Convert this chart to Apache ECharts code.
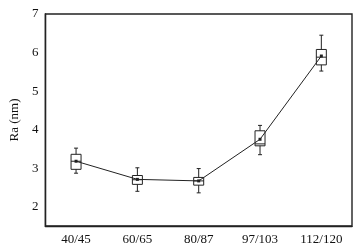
<!DOCTYPE html>
<html><head><meta charset="utf-8">
<script src="https://cdn.jsdelivr.net/npm/echarts@6/dist/echarts.min.js"></script>
<style>html,body{margin:0;padding:0;background:#fff}#c{width:363px;height:247px}</style>
</head><body><div id="c"></div>
<script>
const categories = ['40/45','60/65','80/87','97/103','112/120'];
const whiskerLow = [2.87, 2.40, 2.36, 3.35, 5.52];
const boxLow    = [2.97, 2.58, 2.56, 3.58, 5.68];
const medians   = [3.18, 2.70, 2.67, 3.63, 5.88];
const boxHigh   = [3.36, 2.81, 2.76, 3.97, 6.08];
const whiskerHigh = [3.52, 3.01, 2.99, 4.11, 6.45];
const means     = [3.18, 2.71, 2.67, 3.75, 5.91];
const yTicks = [2,3,4,5,6,7];

const boxData = categories.map((c,i)=>[i, whiskerLow[i], boxLow[i], medians[i], boxHigh[i], whiskerHigh[i]]);
const font = 'Liberation Serif';
const chart = echarts.init(document.getElementById('c'));
chart.setOption({
  animation:false,
  grid:{left:43,right:11,top:14,bottom:21,show:true,borderColor:'#222',borderWidth:1.4,backgroundColor:'transparent'},
  xAxis:{type:'category',data:categories,boundaryGap:true,
    axisLine:{lineStyle:{color:'#222',width:1.4}},
    axisTick:{inside:true,alignWithLabel:true,length:5,lineStyle:{color:'#222'}},
    axisLabel:{fontFamily:font,fontSize:13,color:'#111',margin:7},
    splitLine:{show:false}},
  yAxis:{type:'value',min:1.5,max:7,
    name:'Ra (nm)',nameLocation:'middle',nameGap:23,nameRotate:90,
    nameTextStyle:{fontFamily:font,fontSize:13,color:'#111'},
    axisLine:{show:true,lineStyle:{color:'#222',width:1.4}},
    axisTick:{inside:true,length:5,customValues:yTicks,lineStyle:{color:'#222'}},
    axisLabel:{fontFamily:font,fontSize:13,color:'#111',margin:7,customValues:yTicks},
    splitLine:{show:false}},
  series:[
    {type:'custom',data:boxData,z:3,
     renderItem:function(params,api){
       const x=api.value(0);
       const pWL=api.coord([x,api.value(1)]);
       const pBL=api.coord([x,api.value(2)]);
       const pMd=api.coord([x,api.value(3)]);
       const pBH=api.coord([x,api.value(4)]);
       const pWH=api.coord([x,api.value(5)]);
       const cx=pWL[0], hw=5, cw=2;
       const st={stroke:'#222',lineWidth:1,fill:null};
       return {type:'group',children:[
         {type:'rect',shape:{x:cx-hw,y:pBH[1],width:hw*2,height:pBL[1]-pBH[1]},style:{stroke:'#222',lineWidth:1,fill:'rgba(255,255,255,0)'}},
         {type:'line',shape:{x1:cx-hw,y1:pMd[1],x2:cx+hw,y2:pMd[1]},style:st},
         {type:'line',shape:{x1:cx,y1:pBH[1],x2:cx,y2:pWH[1]},style:st},
         {type:'line',shape:{x1:cx,y1:pBL[1],x2:cx,y2:pWL[1]},style:st},
         {type:'line',shape:{x1:cx-cw,y1:pWH[1],x2:cx+cw,y2:pWH[1]},style:st},
         {type:'line',shape:{x1:cx-cw,y1:pWL[1],x2:cx+cw,y2:pWL[1]},style:st}
       ]};
     }},
    {type:'line',data:means,z:4,symbol:'rect',symbolSize:3,
     lineStyle:{color:'#222',width:1},itemStyle:{color:'#222'}}
  ]
});
</script></body></html>
